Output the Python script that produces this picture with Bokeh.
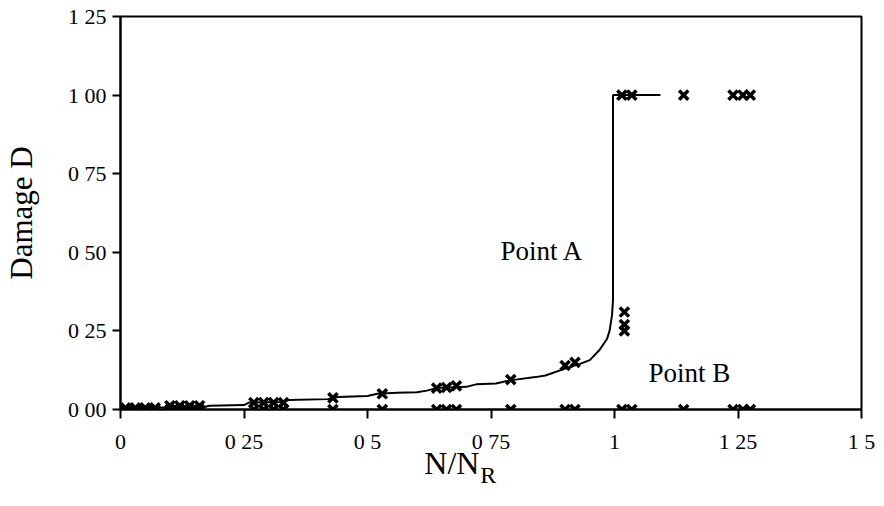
from bokeh.plotting import figure
from bokeh.models import FixedTicker, Label, Range1d
from bokeh.embed import file_html
from bokeh.resources import INLINE

# Curve for Point A (stepwise damage evolution)
curve_x = [0.0, 0.02, 0.17, 0.18, 0.25, 0.26, 0.33, 0.34, 0.42, 0.44, 0.50, 0.52, 0.56, 0.60,
           0.62, 0.64, 0.70, 0.72, 0.76, 0.78, 0.80, 0.84, 0.86, 0.90, 0.93, 0.95, 0.97,
           0.985, 0.99, 0.995, 0.997, 0.997, 1.03, 1.093]
curve_y = [0.0, 0.005, 0.008, 0.012, 0.014, 0.022, 0.024, 0.030, 0.033, 0.040, 0.043, 0.050,
           0.053, 0.055, 0.060, 0.068, 0.072, 0.080, 0.083, 0.090, 0.095, 0.103, 0.108,
           0.130, 0.145, 0.157, 0.190, 0.225, 0.250, 0.300, 0.350, 1.0, 1.0, 1.0]

# Point A markers
a_x = [0.01, 0.03, 0.05, 0.07, 0.10, 0.12, 0.14, 0.16, 0.27, 0.29, 0.31, 0.33, 0.43, 0.53,
       0.64, 0.66, 0.68, 0.79, 0.90, 0.92, 1.02, 1.02, 1.02, 1.015, 1.035, 1.14, 1.24, 1.26,
       1.275]
a_y = [0.005, 0.005, 0.005, 0.005, 0.012, 0.012, 0.012, 0.012, 0.022, 0.022, 0.022, 0.022,
       0.037, 0.05, 0.068, 0.070, 0.075, 0.095, 0.14, 0.15, 0.25, 0.27, 0.31, 1.0, 1.0, 1.0,
       1.0, 1.0, 1.0]

# Point B markers (no damage)
b_x = [0.01, 0.03, 0.05, 0.07, 0.10, 0.12, 0.14, 0.16, 0.27, 0.29, 0.31, 0.33, 0.43, 0.53,
       0.64, 0.66, 0.68, 0.79, 0.90, 0.92, 1.015, 1.035, 1.14, 1.24, 1.26, 1.275]
b_y = [0.0] * len(b_x)

x_ticks = [0, 0.25, 0.5, 0.75, 1.0, 1.25, 1.5]
x_tick_labels = ["0", "0 25", "0 5", "0 75", "1", "1 25", "1 5"]
y_ticks = [0, 0.25, 0.5, 0.75, 1.0, 1.25]
y_tick_labels = ["0 00", "0 25", "0 50", "0 75", "1 00", "1 25"]

FONT = "Liberation Serif"

p = figure(frame_width=741, frame_height=393, output_backend="svg", toolbar_location=None,
           x_range=Range1d(0, 1.5), y_range=Range1d(0, 1.25),
           min_border_left=120, min_border_right=22, min_border_top=16, min_border_bottom=96)
p.grid.visible = False
p.outline_line_color = "black"
p.outline_line_width = 2
p.background_fill_color = "white"
p.border_fill_color = "white"

for ax in (p.xaxis[0], p.yaxis[0]):
    ax.axis_line_width = 2
    ax.axis_line_color = "black"
    ax.major_tick_line_width = 2
    ax.major_tick_line_color = "black"
    ax.minor_tick_line_color = None
    ax.major_tick_in = 0
    ax.major_label_text_font = FONT
    ax.major_label_text_font_size = "22px"
    ax.major_label_text_color = "black"

p.xaxis.ticker = FixedTicker(ticks=x_ticks)
p.xaxis.major_label_overrides = {t: l for t, l in zip(x_ticks, x_tick_labels)}
p.xaxis.major_tick_out = 9
p.xaxis.major_label_standoff = 10

p.yaxis.ticker = FixedTicker(ticks=y_ticks)
p.yaxis.major_label_overrides = {t: l for t, l in zip(y_ticks, y_tick_labels)}
p.yaxis.major_tick_out = 8
p.yaxis.major_label_standoff = 6
p.yaxis.axis_label = "Damage D"
p.yaxis.axis_label_text_font = FONT
p.yaxis.axis_label_text_font_style = "normal"
p.yaxis.axis_label_text_font_size = "31px"
p.yaxis.axis_label_text_color = "black"
p.yaxis.axis_label_standoff = 26

p.line(curve_x, curve_y, line_color="black", line_width=2)
p.scatter(a_x, a_y, marker="x", size=13, line_color="black", line_width=3.5)
p.scatter(b_x, b_y, marker="x", size=13, line_color="black", line_width=3.5)

p.add_layout(Label(x=0.769, y=0.458, text="Point A", text_font=FONT, text_font_size="27px",
                   text_color="black"))
p.add_layout(Label(x=1.069, y=0.067, text="Point B", text_font=FONT, text_font_size="27px",
                   text_color="black"))
# axis title N/N_R drawn below the frame (in the side panel, so it is not clipped)
p.add_layout(Label(x=0.615, y=-0.229, text="N/N", text_font=FONT, text_font_size="32px",
                   text_color="black"), "below")
p.add_layout(Label(x=0.728, y=-0.251, text="R", text_font=FONT, text_font_size="24px",
                   text_color="black"), "below")

open("out.html", "w").write(file_html(p, INLINE))
